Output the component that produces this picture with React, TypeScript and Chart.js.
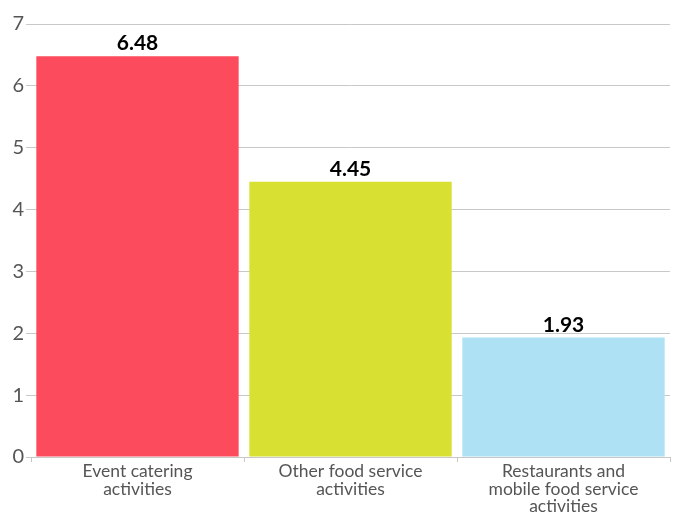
import React, { useEffect, useRef } from "react";
import { Chart, registerables } from "chart.js";

Chart.register(...registerables);

const categories: string[][] = [
  ["Event catering", "activities"],
  ["Other food service", "activities"],
  ["Restaurants and", "mobile food service", "activities"],
];
const values: number[] = [6.48, 4.45, 1.93];
const barColors: string[] = ["#FC4B5C", "#D8E031", "#ADE1F3"];
const yTicks: number[] = [0, 1, 2, 3, 4, 5, 6, 7];

const FONT = "Lato, 'Noto Sans', sans-serif";

const valueLabels = {
  id: "valueLabels",
  afterDatasetsDraw(chart: any) {
    const ctx = chart.ctx;
    const meta = chart.getDatasetMeta(0);
    ctx.save();
    ctx.font = `bold 21px ${FONT}`;
    ctx.fillStyle = "#000";
    ctx.textAlign = "center";
    ctx.textBaseline = "alphabetic";
    meta.data.forEach((bar: any, i: number) => {
      ctx.fillText(values[i].toFixed(2), bar.x, bar.y - 6);
    });
    ctx.restore();
  },
};

export default function App() {
  const ref = useRef<HTMLCanvasElement>(null);
  useEffect(() => {
    document.body.style.margin = "0";
    const chart = new Chart(ref.current!, {
      type: "bar",
      data: {
        labels: categories,
        datasets: [
          {
            data: values,
            backgroundColor: barColors,
            borderWidth: 0,
            barPercentage: 0.95,
            categoryPercentage: 1,
          },
        ],
      },
      options: {
        animation: false,
        responsive: false,
        devicePixelRatio: 1,
        layout: { padding: { top: 24, right: 6, left: 0, bottom: 0 } },
        plugins: {
          legend: { display: false },
          tooltip: { enabled: false },
        },
        scales: {
          x: {
            grid: {
              offset: true,
              drawOnChartArea: false,
              drawTicks: true,
              tickLength: 5,
              color: "#c8c8c8",
            },
            border: { display: true, color: "#c8c8c8", width: 1 },
            ticks: {
              color: "#555",
              font: { family: FONT, size: 17.5, lineHeight: "17.5px" },
              padding: 1,
              maxRotation: 0,
              autoSkip: false,
            },
            afterFit: (scale: any) => {
              scale.height = 55;
            },
          },
          y: {
            min: 0,
            max: 7,
            afterBuildTicks: (scale: any) => {
              scale.ticks = yTicks.map((v) => ({ value: v }));
            },
            grid: {
              color: "#c8c8c8",
              drawTicks: true,
              tickLength: 5,
            },
            border: { display: false },
            ticks: {
              color: "#555",
              font: { family: FONT, size: 20 },
              padding: 2,
            },
            afterFit: (scale: any) => {
              scale.width = 31;
            },
          },
        },
      },
      plugins: [valueLabels],
    });
    return () => chart.destroy();
  }, []);
  return <canvas ref={ref} width={676} height={512} style={{ display: "block" }} />;
}
